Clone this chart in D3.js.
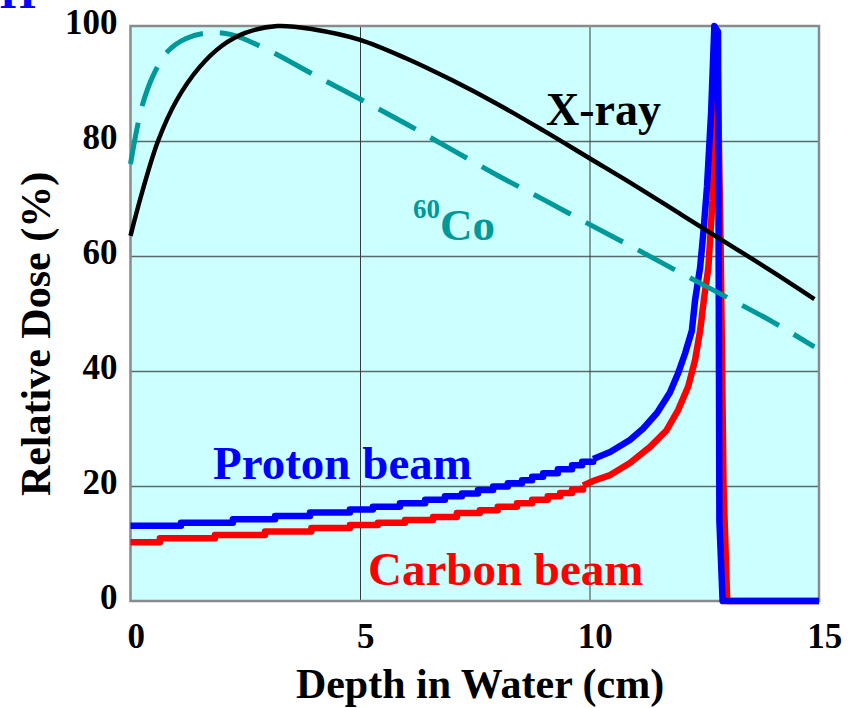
<!DOCTYPE html>
<html>
<head>
<meta charset="utf-8">
<script src="https://cdn.jsdelivr.net/npm/d3@7"></script>
<style>
  html, body { margin: 0; padding: 0; background: #ffffff; }
  svg { display: block; }
  text { font-family: "Liberation Serif", "Times New Roman", serif; font-weight: bold; }
</style>
</head>
<body>
<svg id="chart" width="853" height="708"></svg>
<script>
// ---------- data ----------
const xTicks = [0, 5, 10, 15];
const yTicks = [0, 20, 40, 60, 80, 100];

const xrayDepth = [0, 0.25, 0.6, 1, 1.5, 2, 2.5, 3.2, 4, 5, 6, 7, 8, 9, 10, 11, 12, 13, 14, 14.9];
const xrayDose  = [63.5, 71, 80, 87, 92.8, 96.6, 98.8, 100, 99.4, 97.6, 94.4, 90.6, 86.4, 81.8, 77, 72.2, 67.2, 62.2, 57.2, 52.5];

const coDepth = [0, 0.25, 0.5, 0.8, 1.2, 1.7, 2.2, 3, 4, 5, 6, 7, 8, 9, 10, 11, 12, 13, 14, 14.9];
const coDose  = [76, 86, 91.5, 95.5, 97.8, 98.8, 98.5, 95.8, 91.5, 87.3, 83, 78.5, 74, 69.8, 65.5, 61.3, 57, 52.8, 48.5, 44.2];

const protonStepDepth = [0, 1.1, 2.23, 3.15, 3.91, 4.78, 5.28, 5.87, 6.42, 6.85, 7.22, 7.57, 7.9, 8.22, 8.53, 8.75, 8.99, 9.31, 9.62, 9.84, 10.08];
const protonStepDose  = [13.1, 13.6, 14.2, 14.8, 15.4, 15.9, 16.4, 17.0, 17.6, 18.2, 18.7, 19.3, 19.9, 20.5, 21.0, 21.6, 22.2, 22.9, 23.6, 24.2, 24.7];
const protonPeakDepth = [10.08, 10.45, 10.88, 11.17, 11.47, 11.75, 11.93, 12.08, 12.23, 12.30, 12.41, 12.48, 12.56, 12.65, 12.72, 12.80, 12.83, 12.90, 15];
const protonPeakDose  = [24.7, 25.9, 28, 30, 32.7, 36.2, 39.6, 43, 47, 52.3, 58, 64, 72, 85, 100, 99, 14, 0, 0];

const carbonStepDepth = [0, 0.64, 1.84, 2.93, 3.94, 4.78, 5.39, 5.98, 6.59, 7.11, 7.61, 8.0, 8.42, 8.75, 9.09, 9.36, 9.62, 9.86];
const carbonStepDose  = [10.2, 10.9, 11.5, 12.1, 12.7, 13.2, 13.6, 14.1, 14.6, 15.3, 15.8, 16.4, 17.0, 17.6, 18.2, 18.8, 19.4, 20.1];
const carbonPeakDepth = [9.86, 10.12, 10.45, 10.88, 11.32, 11.68, 11.93, 12.15, 12.30, 12.41, 12.49, 12.59, 12.68, 12.75, 12.78, 12.86, 12.92, 13.0, 15];
const carbonPeakDose  = [20.1, 21, 21.9, 24, 26.8, 29.7, 33.2, 37.3, 41.9, 47, 52.3, 58, 69.7, 85, 99, 60, 20, 0, 0];

const zip = (a, b) => a.map((v, i) => [v, b[i]]);

// ---------- layout ----------
const svg = d3.select("#chart");
const x = d3.scaleLinear().domain([0, 15]).range([130.5, 819]);
const y = d3.scaleLinear().domain([0, 100]).range([601, 26]);

// background
svg.append("rect")
  .attr("x", x(0)).attr("y", y(100))
  .attr("width", x(15) - x(0)).attr("height", y(0) - y(100))
  .attr("fill", "#ccffff");

// gridlines
const gridY = d3.axisLeft(y).tickValues([20, 40, 60, 80]).tickSize(-(x(15) - x(0))).tickFormat("");
svg.append("g").attr("transform", `translate(${x(0)},0)`).call(gridY)
  .call(g => g.select(".domain").remove())
  .call(g => g.selectAll("line").attr("stroke", "#5a6a6a").attr("stroke-width", 1.6));
const gridX = d3.axisBottom(x).tickValues([5, 10]).tickSize(-(y(0) - y(100))).tickFormat("");
svg.append("g").attr("transform", `translate(0,${y(0)})`).call(gridX)
  .call(g => g.select(".domain").remove())
  .call(g => g.selectAll("line").attr("stroke", "#3a3a3a").attr("stroke-width", 1));

// border
svg.append("rect")
  .attr("x", x(0)).attr("y", y(100))
  .attr("width", x(15) - x(0)).attr("height", y(0) - y(100))
  .attr("fill", "none").attr("stroke", "#8a8a8a").attr("stroke-width", 2.5);

// axes labels
const yAxis = d3.axisLeft(y).tickValues(yTicks).tickSize(0).tickPadding(13).tickFormat(d3.format("d"));
svg.append("g").attr("transform", `translate(${x(0)},0)`).call(yAxis)
  .call(g => g.select(".domain").remove())
  .call(g => g.selectAll("text").attr("font-size", 35).attr("fill", "#000")
    .attr("font-family", "Liberation Serif, serif").attr("font-weight", "bold").attr("dy", "0.2em"));

const xAxis = d3.axisBottom(x).tickValues(xTicks).tickSize(0).tickPadding(22).tickFormat(d3.format("d"));
svg.append("g").attr("transform", `translate(0,${y(0)})`).call(xAxis)
  .call(g => g.select(".domain").remove())
  .call(g => g.selectAll("text").attr("font-size", 35).attr("fill", "#000")
    .attr("font-family", "Liberation Serif, serif").attr("font-weight", "bold").attr("dx", "0.15em"));

svg.append("text")
  .attr("x", 480).attr("y", 698)
  .attr("text-anchor", "middle").attr("font-size", 42).attr("fill", "#000")
  .text("Depth in Water (cm)");

svg.append("text")
  .attr("transform", "translate(50,334) rotate(-90)")
  .attr("text-anchor", "middle").attr("font-size", 42).attr("fill", "#000")
  .text("Relative Dose (%)");

// partial panel letter at top-left (cut off by the top edge, as in the reference)
svg.append("text")
  .attr("x", 0).attr("y", 8)
  .attr("font-size", 46).attr("fill", "#0000ff")
  .text("H");

// ---------- curves ----------
const lineLin = d3.line().x(d => x(d[0])).y(d => y(d[1]));
const lineStep = d3.line().x(d => x(d[0])).y(d => y(d[1])).curve(d3.curveStepAfter);
const lineSmooth = d3.line().x(d => x(d[0])).y(d => y(d[1])).curve(d3.curveCatmullRom.alpha(0.5));

function drawBeam(stepD, stepV, peakD, peakV, color) {
  const g = svg.append("g").attr("fill", "none").attr("stroke", color)
    .attr("stroke-width", 6.5).attr("stroke-linejoin", "round");
  g.append("path").attr("d", lineStep(zip(stepD, stepV)));
  g.append("path").attr("d", lineLin(zip(peakD, peakV)));
}
drawBeam(carbonStepDepth, carbonStepDose, carbonPeakDepth, carbonPeakDose, "#ff0000");
drawBeam(protonStepDepth, protonStepDose, protonPeakDepth, protonPeakDose, "#0000ff");

svg.append("path")
  .attr("d", lineSmooth(zip(coDepth, coDose)))
  .attr("fill", "none").attr("stroke", "#009999").attr("stroke-width", 5)
  .attr("stroke-dasharray", "42,17");

svg.append("path")
  .attr("d", lineSmooth(zip(xrayDepth, xrayDose)))
  .attr("fill", "none").attr("stroke", "#000").attr("stroke-width", 4.5);

// ---------- labels ----------
svg.append("text").attr("x", 546).attr("y", 125).attr("font-size", 46).attr("fill", "#000").text("X-ray");

const co = svg.append("text").attr("x", 413).attr("y", 240).attr("fill", "#009999");
co.append("tspan").attr("font-size", 27).attr("dy", -22).text("60");
co.append("tspan").attr("font-size", 45).attr("dy", 22).text("Co");

svg.append("text").attr("x", 213).attr("y", 479).attr("font-size", 47).attr("fill", "#0000ff").text("Proton beam");
svg.append("text").attr("x", 368).attr("y", 585).attr("font-size", 47).attr("fill", "#ff0000").text("Carbon beam");
</script>
</body>
</html>
